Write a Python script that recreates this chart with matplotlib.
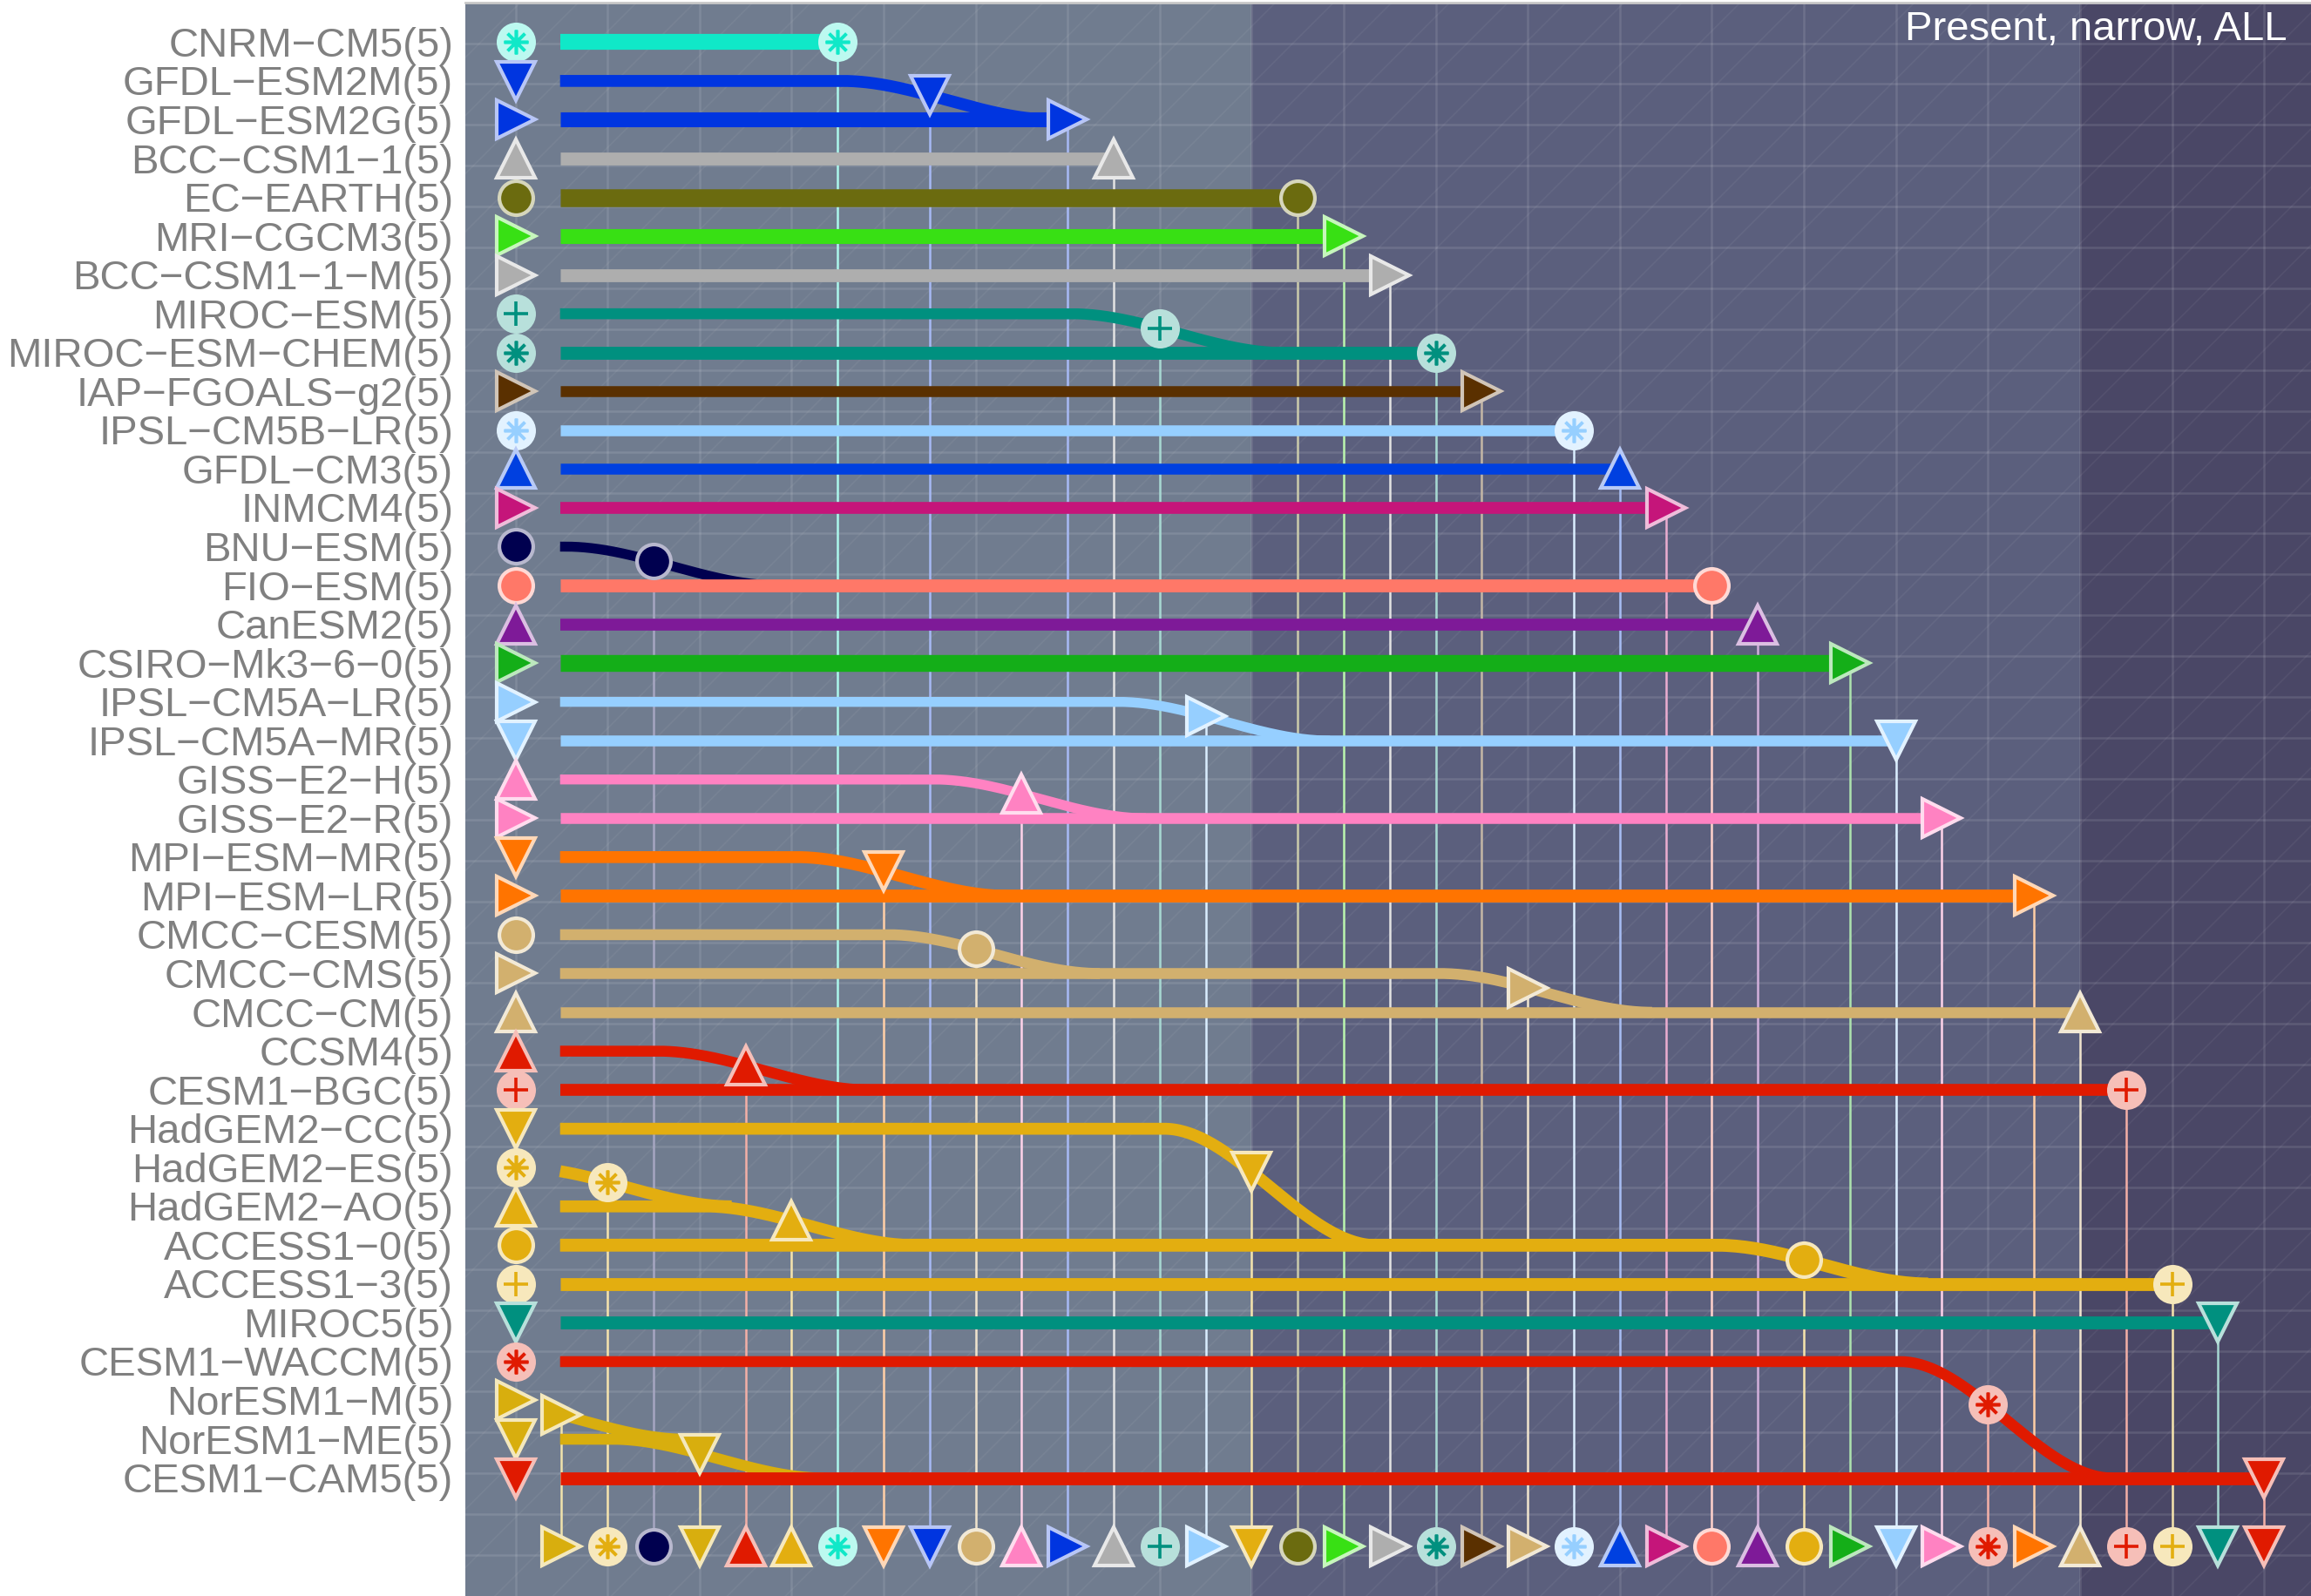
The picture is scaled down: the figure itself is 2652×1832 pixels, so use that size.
import numpy as np
import matplotlib.pyplot as plt
from matplotlib.colors import to_rgb
from matplotlib.patches import Rectangle

plt.rcParams["font.family"] = ["Liberation Sans", "DejaVu Sans"]
plt.rcParams["hatch.linewidth"] = 0.6

# models, top to bottom
models = ["CNRM-CM5", "GFDL-ESM2M", "GFDL-ESM2G", "BCC-CSM1-1", "EC-EARTH", "MRI-CGCM3",
          "BCC-CSM1-1-M", "MIROC-ESM", "MIROC-ESM-CHEM", "IAP-FGOALS-g2", "IPSL-CM5B-LR",
          "GFDL-CM3", "INMCM4", "BNU-ESM", "FIO-ESM", "CanESM2", "CSIRO-Mk3-6-0",
          "IPSL-CM5A-LR", "IPSL-CM5A-MR", "GISS-E2-H", "GISS-E2-R", "MPI-ESM-MR", "MPI-ESM-LR",
          "CMCC-CESM", "CMCC-CMS", "CMCC-CM", "CCSM4", "CESM1-BGC", "HadGEM2-CC", "HadGEM2-ES",
          "HadGEM2-AO", "ACCESS1-0", "ACCESS1-3", "MIROC5", "CESM1-WACCM", "NorESM1-M",
          "NorESM1-ME", "CESM1-CAM5"]
n_runs = [5] * len(models)

# step (bottom column) at which each model is removed
columns = [7, 9, 12, 13, 17, 18, 19, 14, 20, 21, 23, 24, 25, 3, 26, 27, 29, 15, 30, 11,
           31, 8, 33, 10, 22, 34, 5, 35, 16, 2, 6, 28, 36, 37, 32, 1, 4, 38]

# model whose line it joins (None = line just ends)
merge_into = [None, "GFDL-ESM2G", None, None, None, None, None, "MIROC-ESM-CHEM", None, None,
              None, None, None, "FIO-ESM", None, None, None, "IPSL-CM5A-MR", None, "GISS-E2-R",
              None, "MPI-ESM-LR", None, "CMCC-CMS", "CMCC-CM", None, "CESM1-BGC", None,
              "ACCESS1-0", "HadGEM2-AO", "ACCESS1-0", "ACCESS1-3", None, None, "CESM1-CAM5",
              "NorESM1-ME", "CESM1-CAM5", None]

# line weights
weights = [8, 6, 7.5, 6.5, 9, 7.5, 6.5, 5.5, 6.5, 5.5, 5.5, 5.5, 6, 5, 6.5, 6, 8.5,
           5, 5.5, 5, 5.5, 6, 6.5, 5.5, 5.5, 5.5, 5.5, 6, 6, 6, 6, 6.5, 6.5, 6.5, 5.5,
           5.5, 5.5, 6.5]

colors = ["#10E8C8", "#0035E0", "#0035E0", "#AEAEAE", "#6B6B0F", "#38E014", "#AEAEAE",
          "#00907F", "#00907F", "#5A3000", "#96CFFF", "#0040E0", "#C5157A", "#00004F",
          "#FF7868", "#7E1A98", "#14AE18", "#96CFFF", "#96CFFF", "#FF82C2", "#FF82C2",
          "#FF7400", "#FF7400", "#D2B06E", "#D2B06E", "#D2B06E", "#E01A00", "#E01A00",
          "#E3AE10", "#E3AE10", "#E3AE10", "#E3AE10", "#E3AE10", "#00907F", "#E01A00",
          "#D8AE0E", "#D8AE0E", "#E01A00"]

shapes = ["ast", "v", ">", "^", "o", ">", ">", "plus", "ast", ">", "ast", "^", ">", "o",
          "o", "^", ">", ">", "v", "^", ">", "v", ">", "o", ">", "^", "^", "plus", "v",
          "ast", "^", "o", "plus", "v", "ast", ">", "v", "v"]

title = "Present, narrow, ALL"


def tint(c, f=0.72):
    r = np.array(to_rgb(c))
    return tuple(r + (1 - r) * f)


def marker(ax, x, y, shape, c):
    lt = tint(c)
    if shape in ("ast", "plus"):
        ax.plot(x, y, "o", ms=15, mfc=lt, mec=lt, mew=1.2, zorder=5, clip_on=False)
        sym = (8, 2, 0) if shape == "ast" else "+"
        ax.plot(x, y, marker=sym, ms=10, mec=c, mew=1.3, ls="none", zorder=6, clip_on=False)
    elif shape == "o":
        ax.plot(x, y, "o", ms=14, mfc=c, mec=lt, mew=1.5, zorder=5, clip_on=False)
    else:
        ax.plot(x, y, shape, ms=16, mfc=c, mec=lt, mew=1.5, zorder=5, clip_on=False)


def smooth(t):
    t = np.clip(t, 0, 1)
    return t * t * (3 - 2 * t)


fig = plt.figure(figsize=(13.26, 9.165), dpi=200)
ax = fig.add_axes([0.2015, 0.0, 0.7985, 0.998])
x0, x1 = -1.082, 39.02
y_top, y_bot = -1.025, 40.04
ax.set_xlim(x0, x1)
ax.set_ylim(y_bot, y_top)

# background bands
ax.axvspan(x0, 16, color="#707C8F", zorder=0, lw=0)
ax.axvspan(16, 34, color="#5B5F7D", zorder=0, lw=0)
ax.axvspan(34, x1, color="#4A4766", zorder=0, lw=0)
ax.add_patch(Rectangle((x0, y_top), x1 - x0, y_bot - y_top, facecolor="none",
                       edgecolor=(1, 1, 1, 0.05), hatch="/", lw=0, zorder=0.5))

# grid
for xv in range(0, 40, 2):
    ax.axvline(xv, color=(1, 1, 1, 0.11), lw=0.9, zorder=1)
for yv in np.linspace(y_top, y_bot, 40)[1:-1]:
    ax.axhline(yv, color=(1, 1, 1, 0.11), lw=0.9, zorder=1)

row = {m: i for i, m in enumerate(models)}
y_base = 38.75
x_start = 0.97
w, shift = 2.3, 0.4

for i, m in enumerate(models):
    c = columns[i]
    col = colors[i]
    lw = weights[i] * 0.82
    if merge_into[i] is None:
        xs = np.array([x_start, c])
        ys = np.array([i, i], dtype=float)
        ym = i
    else:
        r1 = row[merge_into[i]]
        xs = np.linspace(x_start, c + shift + w, 300)
        ys = i + (r1 - i) * smooth((xs - (c + shift - w)) / (2 * w))
        ym = i + (r1 - i) * float(smooth((c - (c + shift - w)) / (2 * w)))
    ax.plot(xs, ys, color=col, lw=lw, solid_capstyle="butt", zorder=3)
    ax.plot([c, c], [y_base, ym], color=tint(col, 0.65), lw=0.9, zorder=2)
    marker(ax, c, ym, shapes[i], col)
    marker(ax, 0, i, shapes[i], col)
    marker(ax, c, y_base, shapes[i], col)
    ax.text(-1.35, i + 0.08, m.replace("-", "\u2212") + "(%d)" % n_runs[i], ha="right",
            va="center", fontsize=17, color="#808080", clip_on=False)

ax.text(38.5, -0.35, title, ha="right", va="center", fontsize=17, color="white", zorder=7)

for s in ["left", "right", "bottom"]:
    ax.spines[s].set_visible(False)
ax.spines["top"].set_color("#C8C8C8")
ax.spines["top"].set_linewidth(1.0)
ax.set_xticks([])
ax.set_yticks([])

fig.savefig("out.png", dpi=200)
